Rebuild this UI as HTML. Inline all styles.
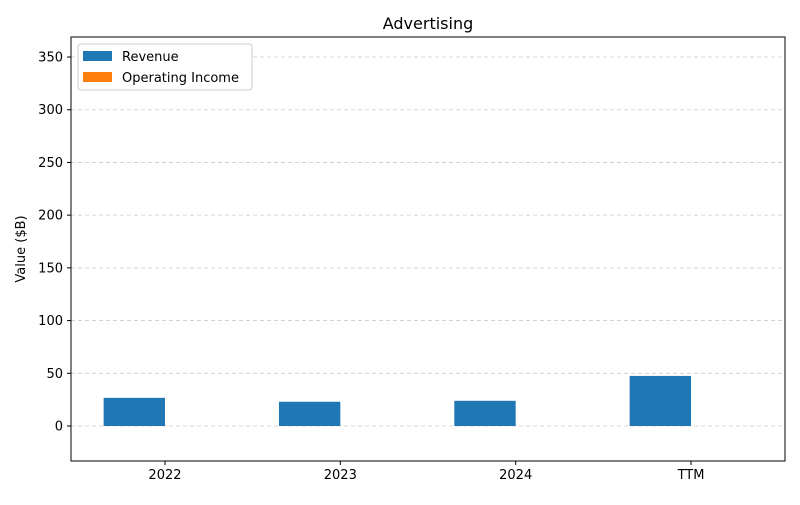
<!DOCTYPE html>
<html><head><meta charset="utf-8"><style>
body{margin:0;background:#fff;font-family:"Liberation Sans","DejaVu Sans",sans-serif;}
svg text{font-family:"DejaVu Sans","Liberation Sans",sans-serif;}
</style></head><body>
<svg id="chart" width="800" height="500" xmlns="http://www.w3.org/2000/svg">
<rect width="800" height="500" fill="#fff"/>
<text x="428" y="29" text-anchor="middle" font-size="16">Advertising</text>
<text transform="translate(25,249) rotate(-90)" text-anchor="middle" font-size="13">Value ($B)</text>
<g id="grid"></g><g id="bars"></g><g id="ticks"></g>
<rect x="71" y="37" width="714" height="424" fill="none" stroke="#000" stroke-width="1"/>
<g>
<rect x="78" y="44" width="174" height="46" fill="#fff" stroke="#ccc" rx="3"/>
<rect x="83" y="51" width="29" height="10" fill="#1f77b4"/>
<text x="122" y="61" font-size="13">Revenue</text>
<rect x="83" y="72" width="29" height="10" fill="#ff7f0e"/>
<text x="122" y="82" font-size="13">Operating Income</text>
</g>
</svg>
<script>
const categories = ["2022","2023","2024","TTM"];
const revenue = [26.7, 23.0, 23.9, 47.5];
const operatingIncome = [0, 0, 0, 0];
const yTicks = [0,50,100,150,200,250,300,350];
const NS="http://www.w3.org/2000/svg";
const X0=71,X1=785,Y0=37,Y1=461,xmin=-0.536,xmax=3.536,ymin=-33.2,ymax=369;
const xs=v=>X0+(v-xmin)/(xmax-xmin)*(X1-X0);
const ys=v=>Y1-(v-ymin)/(ymax-ymin)*(Y1-Y0);
function mk(t,a,p){const e=document.createElementNS(NS,t);for(const k in a)e.setAttribute(k,a[k]);p.appendChild(e);return e;}
const grid=document.getElementById('grid'),bars=document.getElementById('bars'),ticks=document.getElementById('ticks');
yTicks.forEach(v=>{
 const y=ys(v);
 const g=mk('line',{x1:X0,x2:X1,y1:y,y2:y,stroke:'#ccc','stroke-dasharray':'4,3','stroke-width':0.8},grid);
 
 
 mk('line',{x1:X0-4,x2:X0,y1:y,y2:y,stroke:'#000'},ticks);
 const t=mk('text',{x:X0-8,y:y+4.5,'text-anchor':'end','font-size':13},ticks);
 t.textContent=v;
 
 
});
const w=0.35;
categories.forEach((c,i)=>{
 const r=mk('rect',{x:xs(i-w),width:xs(i)-xs(i-w),y:Math.min(ys(revenue[i]),ys(0)),height:Math.abs(ys(0)-ys(revenue[i])),fill:'#1f77b4'},bars);
 
 
 const o=mk('rect',{x:xs(i),width:xs(i+w)-xs(i),y:Math.min(ys(operatingIncome[i]),ys(0)),height:Math.abs(ys(0)-ys(operatingIncome[i])),fill:'#ff7f0e'},bars);
 
 
 const x=xs(i);
 mk('line',{x1:x,x2:x,y1:Y1,y2:Y1+4,stroke:'#000'},ticks);
 const t=mk('text',{x:x,y:Y1+18,'text-anchor':'middle','font-size':13},ticks);
 t.textContent=c;
 
 
});
</script>
</body></html>
